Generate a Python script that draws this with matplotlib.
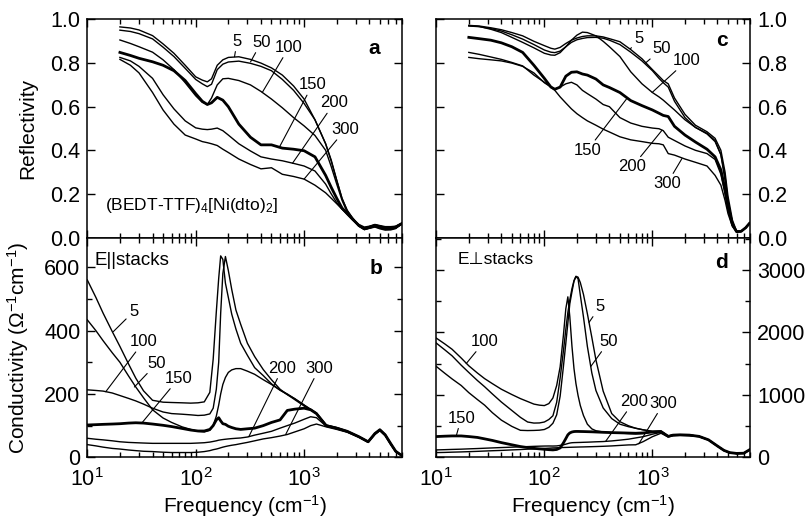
import matplotlib
matplotlib.use("Agg")
import matplotlib.pyplot as plt
from matplotlib.ticker import MultipleLocator, FormatStrFormatter

plt.rcParams['font.family'] = ['Liberation Sans', 'DejaVu Sans']
plt.rcParams['mathtext.fontset'] = 'custom'
plt.rcParams['mathtext.rm'] = 'Liberation Sans'
plt.rcParams['mathtext.it'] = 'Liberation Sans:italic'
plt.rcParams['mathtext.bf'] = 'Liberation Sans:bold'

temps = ["5", "50", "100", "150", "200", "300"]

# ---- panel a: reflectivity, E || stacks
freq_a = [20, 25, 30, 40, 50, 63, 80, 100, 115, 128, 140, 158, 178, 200, 250, 320, 400, 500,
          630, 800, 1000, 1260, 1580, 1780, 2000, 2240, 2500, 2800, 3200, 3600, 4000, 4500,
          5000, 5600, 6300, 7000, 7900]
refl_a = {
    "5": [0.966, 0.961, 0.952, 0.926, 0.888, 0.845, 0.79, 0.737, 0.722, 0.714, 0.728, 0.79, 0.815,
          0.826, 0.829, 0.817, 0.8, 0.778, 0.745, 0.695, 0.635, 0.54, 0.43, 0.355, 0.263, 0.178,
          0.125, 0.09, 0.053, 0.036, 0.042, 0.048, 0.04, 0.034, 0.035, 0.041, 0.062],
    "50": [0.951, 0.945, 0.935, 0.911, 0.873, 0.83, 0.776, 0.725, 0.705, 0.692, 0.703, 0.77, 0.795,
           0.805, 0.809, 0.799, 0.785, 0.765, 0.725, 0.675, 0.615, 0.54, 0.43, 0.35, 0.262, 0.18,
           0.123, 0.088, 0.054, 0.04, 0.045, 0.052, 0.045, 0.04, 0.04, 0.045, 0.062],
    "100": [0.906, 0.89, 0.875, 0.85, 0.815, 0.77, 0.71, 0.65, 0.62, 0.61, 0.64, 0.7, 0.728, 0.73,
            0.72, 0.70, 0.67, 0.635, 0.595, 0.55, 0.512, 0.468, 0.40, 0.325, 0.245, 0.17, 0.115,
            0.085, 0.052, 0.037, 0.043, 0.05, 0.043, 0.038, 0.038, 0.043, 0.06],
    "150": [0.849, 0.835, 0.822, 0.806, 0.79, 0.765, 0.72, 0.66, 0.625, 0.61, 0.618, 0.643, 0.63,
            0.6, 0.52, 0.46, 0.425, 0.425, 0.41, 0.405, 0.398, 0.37, 0.285, 0.23, 0.18, 0.135,
            0.11, 0.085, 0.055, 0.04, 0.047, 0.055, 0.05, 0.043, 0.043, 0.048, 0.063],
    "200": [0.826, 0.81, 0.785, 0.73, 0.655, 0.59, 0.535, 0.503, 0.497, 0.495, 0.497, 0.502, 0.49,
            0.47, 0.43, 0.397, 0.37, 0.36, 0.352, 0.34, 0.328, 0.305, 0.245, 0.2, 0.16, 0.13,
            0.105, 0.08, 0.055, 0.045, 0.05, 0.058, 0.052, 0.047, 0.047, 0.05, 0.064],
    "300": [0.817, 0.79, 0.755, 0.665, 0.585, 0.52, 0.47, 0.452, 0.44, 0.435, 0.43, 0.422, 0.405,
            0.39, 0.36, 0.335, 0.315, 0.32, 0.29, 0.28, 0.268, 0.24, 0.205, 0.18, 0.155, 0.13,
            0.11, 0.085, 0.06, 0.048, 0.052, 0.06, 0.055, 0.05, 0.05, 0.052, 0.065],
}

# ---- panel c: reflectivity, E perpendicular to stacks
freq_c = [20, 25, 32, 40, 50, 63, 80, 100, 115, 125, 140, 158, 178, 200, 225, 250, 300, 350, 400,
          500, 630, 800, 1000, 1150, 1260, 1400, 1600, 2000, 2500, 3200, 3800, 4300, 4700, 5000,
          5500, 6000, 6600, 7300, 7900]
refl_c = {
    "5": [0.973, 0.97, 0.962, 0.953, 0.94, 0.925, 0.9, 0.88, 0.868, 0.864, 0.872, 0.89, 0.905,
          0.915, 0.922, 0.925, 0.925, 0.92, 0.912, 0.898, 0.862, 0.82, 0.77, 0.74, 0.72, 0.705,
          0.64, 0.565, 0.515, 0.485, 0.455, 0.4, 0.3, 0.19, 0.08, 0.03, 0.028, 0.045, 0.065],
    "50": [0.97, 0.967, 0.958, 0.947, 0.93, 0.91, 0.885, 0.86, 0.85, 0.848, 0.855, 0.875, 0.895,
           0.907, 0.913, 0.917, 0.918, 0.914, 0.905, 0.885, 0.85, 0.81, 0.765, 0.73, 0.71, 0.69,
           0.625, 0.55, 0.505, 0.475, 0.44, 0.38, 0.28, 0.17, 0.07, 0.028, 0.028, 0.045, 0.065],
    "100": [0.972, 0.968, 0.955, 0.94, 0.918, 0.895, 0.87, 0.845, 0.837, 0.836, 0.848, 0.875, 0.905,
            0.928, 0.942, 0.94, 0.925, 0.9, 0.875, 0.83, 0.76, 0.705, 0.665, 0.645, 0.63, 0.61,
            0.585, 0.54, 0.505, 0.478, 0.445, 0.38, 0.26, 0.16, 0.065, 0.027, 0.028, 0.045, 0.065],
    "150": [0.918, 0.912, 0.905, 0.893, 0.875, 0.849, 0.79, 0.73, 0.69, 0.68, 0.69, 0.74, 0.758,
            0.76, 0.75, 0.745, 0.727, 0.7, 0.688, 0.665, 0.628, 0.605, 0.585, 0.57, 0.56, 0.555,
            0.51, 0.47, 0.438, 0.405, 0.37, 0.31, 0.22, 0.14, 0.06, 0.027, 0.028, 0.045, 0.065],
    "200": [0.849, 0.84, 0.828, 0.817, 0.803, 0.787, 0.745, 0.712, 0.692, 0.681, 0.69, 0.705, 0.712,
            0.7, 0.675, 0.66, 0.635, 0.61, 0.6, 0.55, 0.525, 0.51, 0.502, 0.499, 0.49, 0.46,
            0.445, 0.42, 0.4, 0.385, 0.358, 0.29, 0.2, 0.13, 0.055, 0.027, 0.028, 0.045, 0.065],
    "300": [0.826, 0.82, 0.815, 0.81, 0.8, 0.785, 0.755, 0.71, 0.69, 0.675, 0.645, 0.617, 0.59,
            0.568, 0.55, 0.535, 0.515, 0.497, 0.484, 0.462, 0.448, 0.44, 0.432, 0.43, 0.425, 0.385,
            0.378, 0.36, 0.345, 0.328, 0.285, 0.24, 0.17, 0.11, 0.05, 0.027, 0.028, 0.045, 0.065],
}

# ---- panel b: conductivity, E || stacks
freq_b = [10, 12, 14, 17, 20, 24, 28, 33, 40, 50, 60, 75, 90, 105, 120, 135, 145, 155, 163, 170,
          178, 188, 200, 215, 235, 260, 300, 350, 420, 500, 600, 700, 820, 1000, 1150, 1300, 1600,
          2000, 2500, 3200, 3900, 4500, 5000, 5600, 6300, 7000, 8000]
cond_b = {
    "5": [560, 505, 455, 397, 350, 295, 250, 210, 180, 174, 173, 172, 171, 172, 175, 205, 310, 460,
          565, 636, 625, 550, 505, 452, 405, 360, 322, 283, 258, 232, 212, 200, 185, 165, 150, 138,
          102, 94, 83, 66, 50, 76, 88, 72, 44, 20, 5],
    "50": [434, 400, 368, 330, 300, 257, 222, 188, 150, 124, 110, 96, 88, 82, 80, 85, 100, 130, 165,
           200, 230, 252, 268, 276, 280, 280, 272, 262, 245, 230, 212, 198, 182, 162, 150, 138, 100,
           92, 82, 65, 49, 75, 87, 71, 43, 19, 5],
    "100": [213, 211, 209, 203, 195, 186, 178, 168, 155, 143, 138, 136, 134, 132, 133, 137, 155, 215,
            300, 455, 580, 634, 590, 530, 465, 420, 360, 318, 277, 245, 215, 198, 185, 165, 152, 140,
            101, 93, 82, 65, 49, 75, 87, 71, 43, 19, 5],
    "150": [102, 103, 104, 105, 106, 108, 109, 108, 105, 101, 97, 91, 86, 83, 83, 88, 100, 118, 125,
            115, 106, 104, 98, 94, 90, 88, 90, 92, 100, 110, 118, 148, 152, 155, 150, 138, 100, 92,
            82, 65, 49, 75, 87, 71, 43, 19, 5],
    "200": [60, 57, 55, 52, 49, 47, 46, 45, 44, 44, 44, 44, 44, 45, 46, 48, 50, 52, 54, 55, 56, 57,
            58, 59, 60, 61, 64, 70, 76, 82, 92, 100, 108, 120, 128, 125, 98, 90, 80, 64, 48, 73, 85,
            69, 41, 18, 5],
    "300": [40, 36, 32, 28, 26, 23, 21, 19, 18, 16, 15, 15, 15, 16, 18, 21, 24, 26, 28, 30, 32, 34,
            36, 38, 40, 43, 47, 52, 58, 62, 67, 72, 80, 90, 100, 105, 96, 88, 79, 63, 47, 72, 84, 68,
            40, 17, 5],
}

# ---- panel d: conductivity, E perpendicular to stacks
freq_d = [10, 12, 14, 17, 20, 24, 28, 33, 40, 50, 60, 70, 80, 90, 100, 110, 120, 130, 140, 150,
          158, 165, 172, 180, 188, 196, 205, 215, 230, 250, 275, 300, 350, 420, 500, 600, 700, 820,
          1000, 1200, 1400, 1550, 1800, 2200, 2700, 3300, 4000, 4600, 5200, 6000, 7000, 8000]
cond_d = {
    "5": [1829, 1720, 1625, 1475, 1358, 1230, 1130, 1015, 885, 750, 640, 565, 548, 550, 565, 605,
          665, 880, 1270, 1700, 2050, 2320, 2520, 2700, 2830, 2899, 2885, 2800, 2610, 2300, 1920,
          1560, 1060, 700, 570, 505, 465, 440, 415, 418, 338, 358, 362, 356, 336, 280, 180, 110,
          75, 62, 65, 125],
    "50": [1455, 1345, 1255, 1150, 1035, 925, 835, 715, 595, 495, 432, 428, 430, 434, 445, 480, 545,
           680, 980, 1450, 1830, 2150, 2460, 2650, 2820, 2895, 2860, 2600, 2250, 1776, 1350, 1070,
           790, 620, 530, 490, 465, 440, 415, 418, 338, 358, 362, 356, 336, 280, 180, 110, 75, 62,
           65, 125],
    "100": [1909, 1815, 1730, 1590, 1465, 1350, 1260, 1180, 1090, 1005, 940, 893, 852, 835, 828,
            860, 950, 1150, 1450, 1950, 2380, 2570, 2250, 1780, 1420, 1180, 990, 830, 670, 530, 455,
            425, 405, 395, 388, 380, 375, 380, 405, 415, 338, 358, 362, 356, 336, 280, 180, 110, 75,
            62, 65, 125],
    "150": [332, 338, 342, 342, 332, 318, 295, 270, 235, 200, 172, 155, 143, 135, 128, 122, 118, 125,
            150, 230, 300, 360, 390, 405, 412, 414, 414, 413, 412, 410, 408, 405, 400, 395, 392, 388,
            385, 390, 405, 412, 335, 355, 360, 355, 335, 280, 180, 110, 75, 62, 65, 125],
    "200": [118, 122, 126, 130, 135, 140, 145, 150, 156, 162, 167, 171, 175, 178, 180, 181, 180, 182,
            190, 200, 210, 220, 228, 233, 235, 236, 237, 238, 240, 242, 245, 248, 252, 262, 275, 290,
            310, 330, 370, 400, 330, 350, 355, 350, 332, 278, 178, 108, 73, 60, 63, 122],
    "300": [75, 78, 82, 86, 90, 95, 100, 105, 110, 118, 124, 130, 134, 138, 142, 146, 150, 152, 155,
            157, 158, 159, 160, 161, 162, 163, 164, 165, 166, 168, 170, 172, 176, 182, 190, 198, 200,
            250, 330, 385, 325, 345, 350, 345, 330, 276, 176, 106, 72, 60, 62, 120],
}

fig = plt.figure(figsize=(8.09, 5.21), dpi=100)
ax_a = fig.add_axes([0.1079, 0.5441, 0.389, 0.4185])
ax_b = fig.add_axes([0.1079, 0.1223, 0.389, 0.4218])
ax_c = fig.add_axes([0.5393, 0.5441, 0.3878, 0.4185])
ax_d = fig.add_axes([0.5393, 0.1223, 0.3878, 0.4218])

panels = [(ax_a, freq_a, refl_a), (ax_b, freq_b, cond_b), (ax_c, freq_c, refl_c), (ax_d, freq_d, cond_d)]
for ax, freq, curves in panels:
    for t in temps:
        lw = 2.0 if t == "150" else 1.0
        ax.plot(freq, curves[t], color="black", lw=lw)
    ax.set_xscale("log")
    ax.set_xlim(10, 8000)
    for sp in ax.spines.values():
        sp.set_linewidth(1.1)
    ax.tick_params(which="both", direction="in", top=True, right=True, width=1.0,
                   labelsize=15.5, pad=5)
    ax.tick_params(axis="x", pad=8)
    ax.tick_params(which="major", length=6)
    ax.tick_params(which="minor", length=3.5)

for ax in (ax_a, ax_c):
    ax.set_ylim(0, 1.0)
    ax.yaxis.set_major_locator(MultipleLocator(0.2))
    ax.yaxis.set_major_formatter(FormatStrFormatter("%.1f"))
    ax.tick_params(labelbottom=False)

ax_b.set_ylim(0, 694)
ax_b.yaxis.set_major_locator(MultipleLocator(200))
ax_b.yaxis.set_minor_locator(MultipleLocator(100))
ax_d.set_ylim(0, 3520)
ax_d.yaxis.set_major_locator(MultipleLocator(1000))
ax_d.yaxis.set_minor_locator(MultipleLocator(500))

for ax in (ax_c, ax_d):
    ax.tick_params(axis="y", which="both", labelleft=False, labelright=True)

ax_a.set_ylabel("Reflectivity", fontsize=15)
ax_a.yaxis.set_label_coords(-0.16, 0.5)
ax_b.set_ylabel("Conductivity (Ω$^{-1}$cm$^{-1}$)", fontsize=15)
ax_b.yaxis.set_label_coords(-0.178, 0.5)
for ax in (ax_b, ax_d):
    ax.set_xlabel("Frequency (cm$^{-1}$)", fontsize=15)
    ax.xaxis.set_label_coords(0.5, -0.165)


def tag(ax, text, xy, xytext):
    ax.annotate(text, xy=xy, xytext=xytext, fontsize=12, ha="center", va="center",
                arrowprops=dict(arrowstyle="-", lw=0.8, color="black", shrinkA=0, shrinkB=0))


# curve labels, panel a
tag(ax_a, "5", (228, 0.829), (241, 0.900))
tag(ax_a, "50", (321, 0.806), (403, 0.895))
tag(ax_a, "100", (411, 0.665), (726, 0.872))
tag(ax_a, "150", (588, 0.412), (1194, 0.70))
tag(ax_a, "200", (780, 0.34), (1897, 0.617))
tag(ax_a, "300", (1000, 0.268), (2400, 0.495))
ax_a.text(4446, 0.867, "a", fontsize=15, fontweight="bold", ha="center", va="center")
ax_a.text(14.6, 0.147, "(BEDT-TTF)$_4$[Ni(dto)$_2$]", fontsize=12.5, ha="left", va="center")

# panel b
tag(ax_b, "5", (17.4, 397), (26.7, 460))
tag(ax_b, "100", (14.8, 207), (33, 365))
tag(ax_b, "50", (27.2, 222), (43.9, 297))
tag(ax_b, "150", (31.8, 108), (69.7, 249))
tag(ax_b, "200", (309, 65), (631, 281))
tag(ax_b, "300", (676, 72), (1380, 281))
ax_b.text(4570, 597, "b", fontsize=15, fontweight="bold", ha="center", va="center")
ax_b.text(11.7, 620, "E||stacks", fontsize=13.5, ha="left", va="center")

# panel c
tag(ax_c, "5", (627, 0.866), (748, 0.911))
tag(ax_c, "50", (861, 0.80), (1227, 0.866))
tag(ax_c, "100", (993, 0.665), (2089, 0.812))
tag(ax_c, "150", (585, 0.64), (250, 0.40))
tag(ax_c, "200", (1227, 0.492), (650, 0.324))
tag(ax_c, "300", (1875, 0.362), (1365, 0.247))
ax_c.text(4385, 0.904, "c", fontsize=15, fontweight="bold", ha="center", va="center")

# panel d
tag(ax_d, "100", (18.9, 1500), (27.9, 1856))
tag(ax_d, "5", (259, 2160), (327, 2417))
tag(ax_d, "50", (269, 1455), (396, 1856))
tag(ax_d, "150", (15.3, 342), (17, 626))
tag(ax_d, "200", (369, 255), (673, 893))
tag(ax_d, "300", (748, 215), (1271, 866))
ax_d.text(4365, 3112, "d", fontsize=15, fontweight="bold", ha="center", va="center")
ax_d.text(15.8, 3166, "E⊥stacks", fontsize=12.5, ha="left", va="center")

fig.savefig("out.png", dpi=100)
